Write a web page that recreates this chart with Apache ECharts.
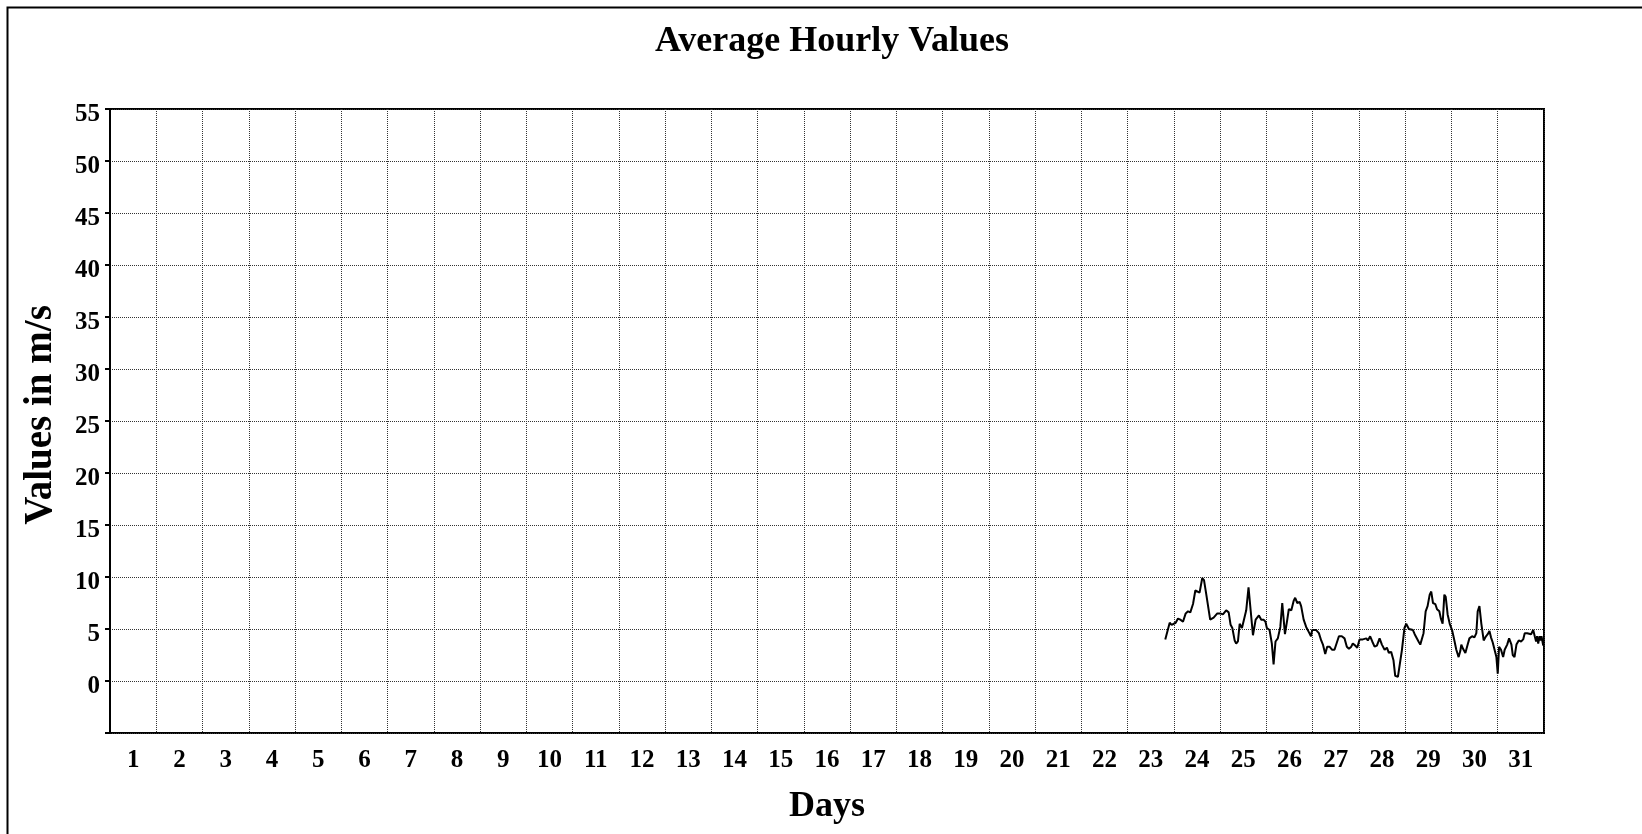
<!DOCTYPE html>
<html>
<head>
<meta charset="utf-8">
<style>
  html, body { margin: 0; padding: 0; background: #fff; }
  #chart { width: 1642px; height: 834px; }
</style>
<script src="https://cdn.jsdelivr.net/npm/echarts@6/dist/echarts.min.js"></script>
</head>
<body>
<div id="chart"></div>
<script>
// ---- data ----
const titleText = 'Average Hourly Values';
const xAxisTitle = 'Days';
const yAxisTitle = 'Values in m/s';
const dayLabels = ['1','2','3','4','5','6','7','8','9','10','11','12','13','14','15','16',
  '17','18','19','20','21','22','23','24','25','26','27','28','29','30','31'];
// hours since start of month
const hours = [547.5,549.8,550.8,551.8,552.9,554.1,555.3,556.7,558.1,559.3,560.5,561.9,563.1,564.1,565.3,566.7,567.6,568.8,
  570.8,572.6,574.5,576.0,577.4,579.1,580.4,581.4,582.3,583.5,584.3,585.2,586.1,587.3,588.1,589.5,590.7,591.8,593.0,594.4,
  596.1,597.3,598.5,599.5,600.2,601.6,602.8,603.7,604.7,605.9,607.2,608.2,609.6,610.8,611.6,612.9,614.1,614.9,616.0,617.2,
  618.0,619.3,620.6,622.0,623.1,623.7,625.8,627.2,628.4,629.3,630.5,631.5,632.7,634.1,635.3,636.2,637.6,639.1,640.5,641.7,
  642.8,644.0,644.8,646.1,647.1,648.3,650.0,651.8,652.6,653.8,654.9,656.1,657.3,658.7,659.9,661.3,662.5,663.5,664.7,665.9,
  666.8,668.2,669.0,670.3,671.6,672.5,673.9,674.9,676.0,676.9,677.7,678.9,679.8,680.7,681.5,682.6,683.6,684.7,685.5,686.4,
  687.6,688.5,689.7,690.5,691.4,692.3,693.0,694.0,695.1,696.3,697.5,698.5,699.7,700.6,701.1,702.0,703.2,704.4,705.3,706.7,
  707.9,708.9,709.6,710.5,711.5,712.7,713.9,714.8,715.7,716.5,717.4,718.3,719.3,720.0,720.7,721.7,722.8,723.6,724.9,725.9,
  726.6,727.1,727.8,728.7,729.7,730.9,732.1,733.2,734.0,735.3,736.3,737.3,738.4,739.2,739.9,740.4,741.0,741.7,742.2,742.7,743.6];
const values = [4.0,5.6,5.4,5.3,5.6,6.0,5.9,5.7,6.5,6.7,6.6,7.4,8.7,8.6,8.5,9.9,9.7,8.3,
  5.9,6.1,6.5,6.5,6.4,6.8,6.6,5.4,5.1,3.9,3.6,3.8,5.5,5.1,5.0,6.8,9.0,6.8,4.4,5.9,
  6.3,5.9,5.9,5.7,5.1,4.9,3.6,1.6,3.8,4.1,5.2,7.5,4.5,5.9,6.9,6.8,7.7,8.0,7.5,7.6,
  7.2,5.9,5.2,4.7,4.3,4.9,4.9,4.6,3.9,3.5,2.6,3.3,3.3,3.0,3.0,2.9,4.3,4.3,4.1,3.3,
  3.1,3.3,3.6,3.4,3.2,4.0,4.0,4.1,3.9,4.3,3.8,3.3,3.4,4.1,3.5,3.0,3.2,2.7,2.8,2.0,
  0.5,0.4,0.5,3.0,5.1,5.5,5.0,5.0,4.9,4.5,4.4,3.8,3.5,3.6,4.6,6.7,7.2,8.3,8.6,7.5,
  7.4,6.9,6.7,6.0,5.5,8.3,8.1,6.4,5.5,4.9,3.9,3.0,2.3,2.9,3.5,3.1,2.7,3.5,4.1,4.3,
  4.2,4.6,6.7,7.2,5.5,3.9,4.3,4.5,4.8,4.2,3.7,3.6,2.3,0.7,3.3,3.0,2.3,3.0,3.5,4.1,
  4.1,3.5,2.5,2.3,3.5,3.9,3.8,4.0,4.6,4.6,4.7,4.5,4.9,4.3,3.8,4.3,3.6,4.3,3.9,4.3,3.4];
const yTicks = { min: -5, max: 55, step: 5 };
const hoursPerDay = 24;

// ---- chart ----
const FONT = "'Liberation Serif', 'Times New Roman', serif";
const chart = echarts.init(document.getElementById('chart'), null, { renderer: 'canvas' });
const seriesData = hours.map((h, i) => [h, values[i]]);

chart.setOption({
  animation: false,
  backgroundColor: '#fff',
  title: {
    text: titleText,
    left: 827, top: 19, textAlign: 'center',
    textStyle: { fontFamily: FONT, fontWeight: 'bold', fontSize: 36, color: '#000' }
  },
  graphic: [{
    type: 'rect', left: 5, top: 5, silent: true,
    shape: { x: 0, y: 0, width: 1700, height: 900 },
    style: { fill: 'none', stroke: '#000', lineWidth: 2 }
  }],
  grid: {
    left: 110, top: 109, right: 98, bottom: 101,
    show: true, borderColor: '#000', borderWidth: 2, backgroundColor: 'transparent'
  },
  xAxis: [{
    type: 'value', min: 0, max: dayLabels.length * hoursPerDay, interval: hoursPerDay,
    axisLine: { show: false }, axisTick: { show: false }, axisLabel: { show: false },
    splitLine: { show: true, lineStyle: { color: '#333', width: 1, type: [1, 1] } }
  }, {
    type: 'category', data: dayLabels, position: 'bottom', offset: 0, boundaryGap: true,
    axisLine: { show: false }, axisTick: { show: false }, splitLine: { show: false },
    axisLabel: { margin: 15, fontFamily: FONT, fontWeight: 'bold', fontSize: 25, color: '#000', interval: 0 },
    name: xAxisTitle, nameLocation: 'middle', nameGap: 56,
    nameTextStyle: { fontFamily: FONT, fontWeight: 'bold', fontSize: 36, color: '#000' }
  }],
  yAxis: {
    type: 'value', min: yTicks.min, max: yTicks.max, interval: yTicks.step,
    axisLine: { show: true, lineStyle: { color: '#000', width: 2 } },
    axisTick: { show: true, length: 5, lineStyle: { color: '#000', width: 2 } },
    axisLabel: {
      margin: 10, fontFamily: FONT, fontWeight: 'bold', fontSize: 25, color: '#000',
      formatter: v => (v < 0 ? '' : '{t|' + v + '}'),
      rich: { t: { fontFamily: FONT, fontWeight: 'bold', fontSize: 25, color: '#000', padding: [12, 0, 0, 0] } }
    },
    splitLine: { show: true, lineStyle: { color: '#333', width: 1, type: [1, 1] } },
    name: yAxisTitle, nameLocation: 'middle', nameGap: 50,
    nameTextStyle: { fontFamily: FONT, fontWeight: 'bold', fontSize: 39, color: '#000', padding: [0, 0, 0, 12] }
  },
  series: [{
    type: 'line', xAxisIndex: 0, data: seriesData,
    showSymbol: false, symbol: 'none',
    lineStyle: { color: '#000', width: 2 }
  }]
});
</script>
</body>
</html>
